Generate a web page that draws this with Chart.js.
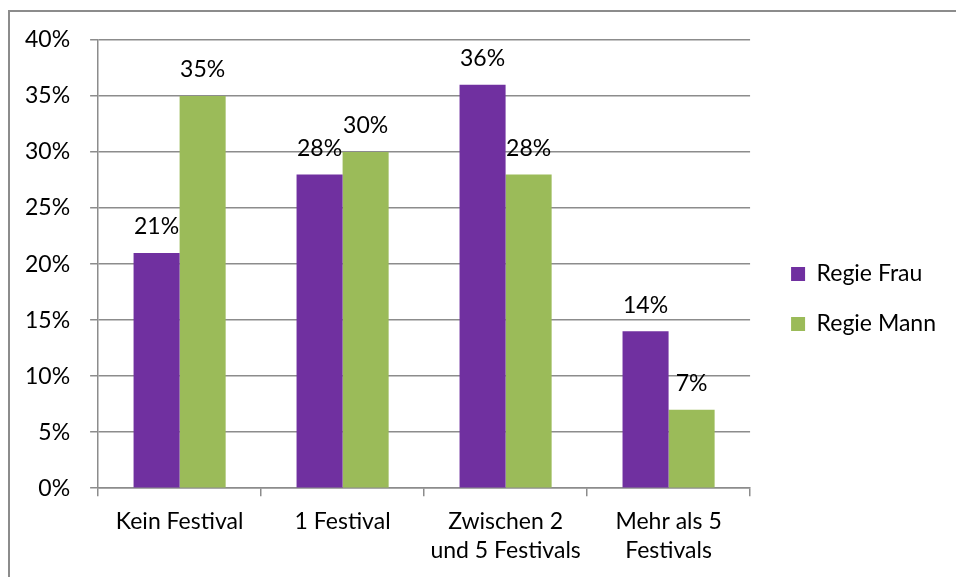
<!DOCTYPE html>
<html>
<head>
<meta charset="utf-8">
<script src="https://cdn.jsdelivr.net/npm/chart.js@4"></script>
<style>
	html, body { margin: 0; padding: 0; background: #fff; }
	#wrap { position: relative; width: 956px; height: 577px; overflow: hidden; }
	#frame { position: absolute; left: 8px; top: 10px; width: 960px; height: 580px; border: 2px solid #8c8c8c; }
	#chart { position: absolute; left: 0; top: 0; }
</style>
</head>
<body>
<div id="wrap">
	<div id="frame"></div>
	<canvas id="chart" width="956" height="577"></canvas>
</div>
<script>
var categories = [['Kein Festival'], ['1 Festival'], ['Zwischen 2', 'und 5 Festivals'], ['Mehr als 5', 'Festivals']];
var seriesNames = ['Regie Frau', 'Regie Mann'];
var regieFrau = [21, 28, 36, 14];
var regieMann = [35, 30, 28, 7];
var yTicks = [0, 5, 10, 15, 20, 25, 30, 35, 40];

var FONT = 'Lato, "Open Sans", sans-serif';
Chart.defaults.font.family = FONT;
Chart.defaults.font.size = 23;
Chart.defaults.color = '#000';

// Value labels above each bar.
var valueLabels = {
	id: 'valueLabels',
	afterDatasetsDraw: function(chart) {
		var ctx = chart.ctx;
		ctx.save();
		ctx.font = '23px ' + FONT;
		ctx.fillStyle = '#000';
		ctx.textAlign = 'center';
		ctx.textBaseline = 'middle';
		chart.data.datasets.forEach(function(ds, i) {
			chart.getDatasetMeta(i).data.forEach(function(bar, j) {
				ctx.fillText(ds.data[j] + '%', bar.x, bar.y - 26);
			});
		});
		ctx.restore();
	}
};

// Nudge the legend a bit away from the plot, like the original.
var legendShift = {
	id: 'legendShift',
	afterLayout: function(chart) {
		var lg = chart.legend;
		lg.left += 14; lg.right += 14;
		lg.top -= 9; lg.bottom -= 9;
	}
};

new Chart(document.getElementById('chart'), {
	type: 'bar',
	data: {
		labels: categories,
		datasets: [{
			label: seriesNames[0],
			data: regieFrau,
			backgroundColor: '#7030a0',
			borderWidth: 0
		}, {
			label: seriesNames[1],
			data: regieMann,
			backgroundColor: '#9bbb59',
			borderWidth: 0
		}]
	},
	options: {
		responsive: false,
		animation: false,
		categoryPercentage: 0.565,
		barPercentage: 1,
		layout: { padding: { left: 5, right: 24, top: 40, bottom: 1 } },
		plugins: {
			legend: {
				position: 'right',
				labels: {
					boxWidth: 14,
					boxHeight: 14,
					padding: 27,
					color: '#000'
				}
			},
			tooltip: { enabled: false }
		},
		scales: {
			y: {
				min: 0,
				max: 40,
				afterBuildTicks: function(s) { s.ticks = yTicks.map(function(v) { return { value: v }; }); },
				ticks: {
					padding: 20,
					callback: function(v) { return v + '%'; }
				},
				grid: { color: '#8c8c8c', tickLength: 8, lineWidth: 1.5 },
				border: { color: '#8c8c8c', width: 1.5 }
			},
			x: {
				ticks: { padding: 10, maxRotation: 0, font: { lineHeight: 1.3 } },
				grid: { drawOnChartArea: false, color: '#8c8c8c', tickLength: 8, lineWidth: 1.5 },
				border: { color: '#8c8c8c', width: 1.5 }
			}
		}
	},
	plugins: [valueLabels, legendShift]
});
</script>
</body>
</html>
